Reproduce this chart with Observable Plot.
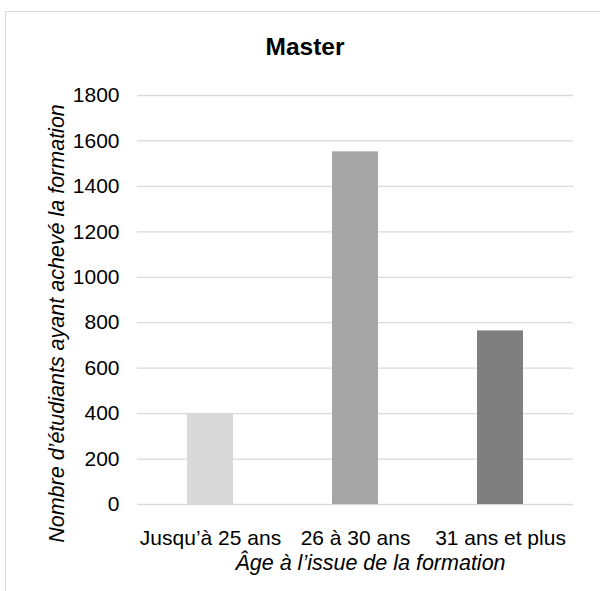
<!DOCTYPE html>
<html>
<head>
<meta charset="utf-8">
<script src="https://cdn.jsdelivr.net/npm/d3@7"></script>
<script src="https://cdn.jsdelivr.net/npm/@observablehq/plot@0.6"></script>
<style>
  html, body { margin: 0; padding: 0; background: #fff; overflow: hidden; }
  #wrap { position: relative; width: 600px; height: 591px; overflow: hidden; font-family: "Liberation Sans", Arial, sans-serif; }
  #frame { position: absolute; left: 5px; top: 11px; width: 700px; height: 700px; border: 1.5px solid #d9d9d9; box-sizing: border-box; }
  #title { position: relative; height: 80px; line-height: 1; text-align: center; font-weight: bold; font-size: 24.5px; color: #000; padding-left: 10px; box-sizing: border-box; padding-top: 35px; }
  #chart { position: relative; }
</style>
</head>
<body>
<div id="wrap">
  <div id="frame"></div>
  <div id="title">Master</div>
  <div id="chart"></div>
</div>
<script>
const categories = ["Jusqu’à 25 ans", "26 à 30 ans", "31 ans et plus"];
const values = [398, 1552, 764];
const colors = ["#d9d9d9", "#a6a6a6", "#7f7f7f"];
const yTicks = [0, 200, 400, 600, 800, 1000, 1200, 1400, 1600, 1800];
const yLabel = "Nombre d’étudiants ayant achevé la formation";
const xLabel = "Âge à l’issue de la formation";

const data = categories.map((c, i) => ({ category: c, value: values[i], color: colors[i] }));

const chart = Plot.plot({
  width: 600,
  height: 511,
  marginLeft: 137,
  marginRight: 27,
  marginTop: 15,
  marginBottom: 87,
  style: { fontFamily: "'Liberation Sans', Arial, sans-serif", fontSize: "21px", color: "#000", background: "transparent" },
  x: { domain: categories, paddingInner: 0.683, paddingOuter: 0.3415, align: 0.5 },
  y: { domain: [0, 1800] },
  marks: [
    Plot.ruleY(yTicks, { stroke: "#d9d9d9", strokeWidth: 1.3 }),
    Plot.barY(data, { x: "category", y: "value", fill: "color" }),
    Plot.axisY(yTicks, { tickSize: 0, tickPadding: 18, tickFormat: d => String(d), label: null }),
    Plot.axisX({ tickSize: 0, tickPadding: 26, label: null }),
    Plot.text([yLabel], { frameAnchor: "left", rotate: -90, dx: -80, dy: 23.5, fontStyle: "italic", fontSize: 21.5, textAnchor: "middle", lineAnchor: "middle", text: d => d }),
    Plot.text([xLabel], { frameAnchor: "bottom", dx: 15, dy: 65, fontStyle: "italic", fontSize: 21.5, text: d => d })
  ]
});
document.getElementById("chart").appendChild(chart);
</script>
</body>
</html>
